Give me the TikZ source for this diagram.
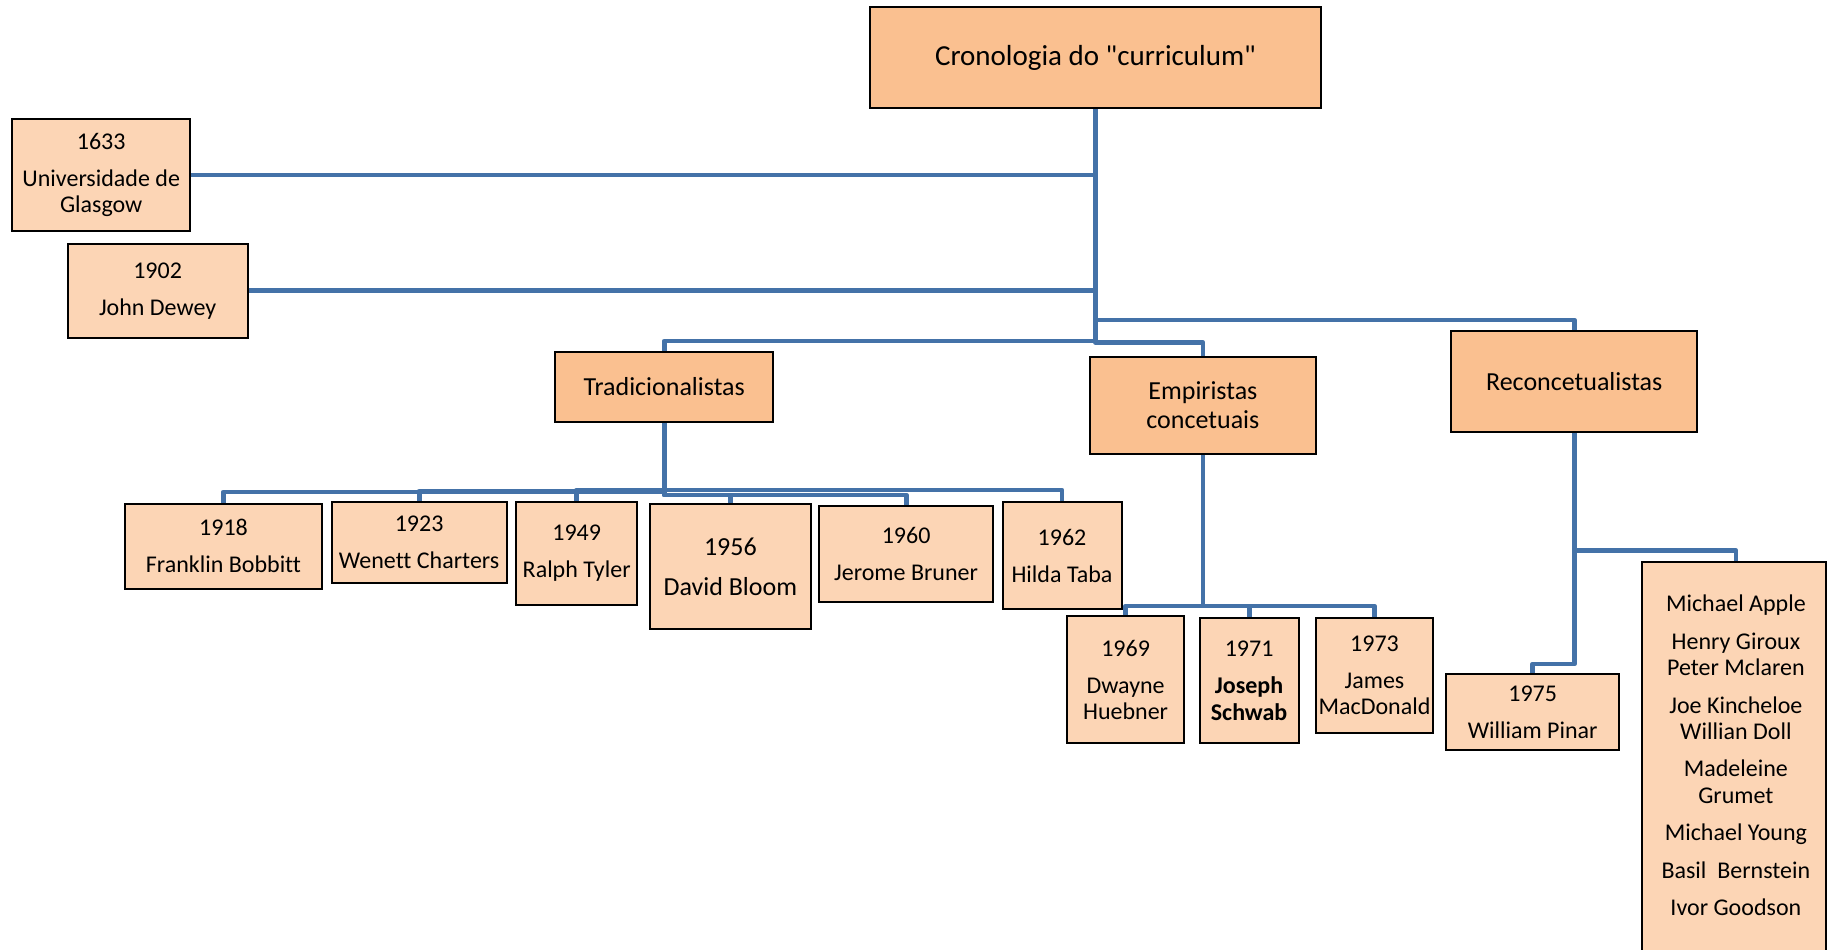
\documentclass[tikz,border=0pt]{standalone}
\usepackage{fontspec}
\setmainfont{Carlito}[Ligatures={TeX,NoCommon}]
\definecolor{linkblue}{RGB}{68,114,168}
\definecolor{catfill}{RGB}{250,192,144}
\definecolor{itemfill}{RGB}{252,213,181}
\tikzset{
  conn/.style={draw=linkblue, line width=2.4pt, line join=round},
  boxbase/.style={draw=black, line width=1pt, rectangle, inner sep=0pt, align=center, anchor=center},
  catbox/.style={boxbase, fill=catfill},
  itembox/.style={boxbase, fill=itemfill},
  sz/.style 2 args={minimum width=#1*0.5pt, minimum height=#2*0.5pt},
  nfont/.style={font=\fontsize{12}{13.2}\selectfont},
  cfont/.style={font=\fontsize{13}{14.2}\selectfont},
}
\begin{document}
\begin{tikzpicture}[x=0.5pt, y=-0.5pt]
\useasboundingbox (0,0) rectangle (1828,949);
\clip (0,0) rectangle (1828,949);
\fill[white] (0,0) rectangle (1828,949);

% title and categories
\node[catbox, sz={451}{101}, font=\fontsize{14.5}{16}\selectfont] (title) at (1095.5,57.5) {Cronologia do \textquotedbl curriculum\textquotedbl};
\node[catbox, sz={217.5}{70}, cfont] (trad) at (664.2,387) {Tradicionalistas};
\node[catbox, sz={226.7}{97.2}, cfont] (emp) at (1202.9,405.1) {Empiristas\\concetuais};
\node[catbox, sz={246.4}{100.7}, cfont] (rec) at (1574.2,381.3) {Reconcetualistas};

% early items
\node[itembox, sz={178.5}{112}, nfont] (u1633) at (101.2,175) {1633\\[5.3pt]Universidade de\\Glasgow};
\node[itembox, sz={180}{94.3}, nfont] (d1902) at (157.6,290.8) {1902\\[5.3pt]John Dewey};

% tradicionalistas
\node[itembox, sz={196.5}{84.7}, nfont] (b1918) at (223.5,546.3) {1918\\[5.3pt]Franklin Bobbitt};
\node[itembox, sz={175}{81}, nfont] (b1923) at (419.1,542.5) {1923\\[5.3pt]Wenett Charters};
\node[itembox, sz={120.5}{103.3}, nfont] (b1949) at (576.7,553.3) {1949\\[5.3pt]Ralph Tyler};
\node[itembox, sz={161}{124.7}, font=\fontsize{13}{14.3}\selectfont] (b1956) at (730.4,566.7) {1956\\[5.7pt]David Bloom};
\node[itembox, sz={174.3}{96.3}, nfont] (b1960) at (906.1,554.1) {1960\\[5.3pt]Jerome Bruner};
\node[itembox, sz={119}{107}, nfont] (b1962) at (1062,555.8) {1962\\[5.3pt]Hilda Taba};

% empiristas
\node[itembox, sz={116.7}{127.3}, nfont] (b1969) at (1125.6,679.7) {1969\\[5.3pt]Dwayne\\Huebner};
\node[itembox, sz={99}{125}, nfont] (b1971) at (1249.1,680.8) {1971\\[5.3pt]\textbf{Joseph}\\\textbf{Schwab}};
\node[itembox, sz={116.6}{114.4}, nfont] (b1973) at (1374.5,675.5) {1973\\[5.3pt]James\\MacDonald};

% reconcetualistas
\node[itembox, sz={173}{76}, nfont] (b1975) at (1532.7,712) {1975\\[5.3pt]William Pinar};
\node[itembox, sz={184}{438.3}] (big) at (1734,780.85) {};
\node[nfont, align=center, inner sep=0pt] (bigtext) at (1735.9,755.5)
  {Michael Apple\\[5.5pt]Henry Giroux\\Peter Mclaren\\[5.5pt]Joe Kincheloe\\Willian Doll\\[5.5pt]Madeleine\\Grumet\\[5.5pt]Michael Young\\[5.5pt]Basil\ \ Bernstein\\[5.5pt]Ivor Goodson};

% connectors from the title
\draw[conn] (u1633.east) -- (u1633.east -| title.south);
\draw[conn] (d1902.east) -- (d1902.east -| title.south);
\draw[conn] (rec.north) -- ++(0,-10) -| (title.south);
\draw[conn] (emp.north) -- ++(0,-13) -| (title.south);
\draw[conn] (trad.north) -- ++(0,-10) -| (title.south);

% tradicionalistas children
\draw[conn] (b1918.north) -- ++(0,-11) -| (trad.south);
\draw[conn] (b1923.north) -- ++(0,-10) -| (trad.south);
\draw[conn] (b1949.north) -- ++(0,-10.7) -| (trad.south);
\draw[conn] (b1956.north) -- ++(0,-8.3) -| (trad.south);
\draw[conn] (b1960.north) -- ++(0,-10) -| (trad.south);
\draw[conn] (b1962.north) -- ++(0,-11.3) -| (trad.south);

% empiristas children
\draw[conn] (b1969.north) -- ++(0,-9) -| (emp.south);
\draw[conn] (b1971.north) -- ++(0,-11.3) -| (emp.south);
\draw[conn] (b1973.north) -- ++(0,-11.3) -| (emp.south);

% reconcetualistas children
\draw[conn] (b1975.north) -- ++(0,-9) -| (rec.south);
\draw[conn] (big.north -| bigtext.center) -- ++(0,-10) -| (rec.south);
\end{tikzpicture}
\end{document}
